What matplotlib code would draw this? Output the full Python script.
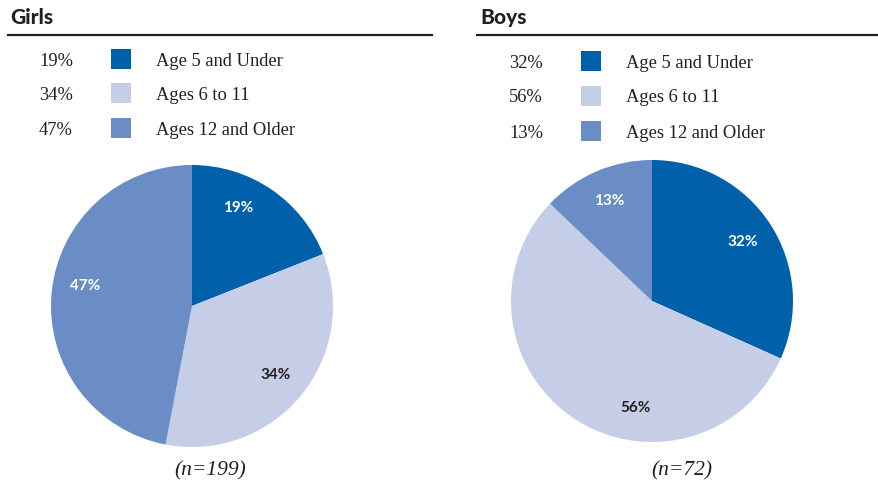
import numpy as np
import matplotlib.pyplot as plt
from matplotlib.patches import Rectangle
from matplotlib.lines import Line2D

# data
age_groups = ['Age 5 and Under', 'Ages 6 to 11', 'Ages 12 and Older']
girls_pct = [19, 34, 47]
boys_pct = [32, 56, 13]
girls_n = 199
boys_n = 72

colors = ['#0060a9', '#c5cee6', '#6a8dc6']
label_colors = ['white', '#231f20', 'white']
text_color = '#231f20'

W, H = 879, 486
fig = plt.figure(figsize=(W / 100, H / 100), dpi=100)


def fx(x):
    return x / W


def fy(y):
    return 1 - y / H


def panel(title, pcts, n, x0, rule_x, row_y, pie_box, n_x, label_shift):
    # title and rule
    fig.text(fx(x0), fy(24), title, fontsize=15, fontweight='black',
             family='Lato', color=text_color, va='baseline', ha='left')
    fig.add_artist(Line2D([fx(rule_x[0]), fx(rule_x[1])], [fy(35), fy(35)],
                          color=text_color, lw=1.6, transform=fig.transFigure))

    # legend rows
    for i, (p, lab) in enumerate(zip(pcts, age_groups)):
        y = row_y[i]
        fig.text(fx(x0 + 63), fy(y + 6.5), f'{p}%', fontsize=13.3, family='Liberation Serif',
                 color=text_color, ha='right', va='baseline')
        fig.add_artist(Rectangle((fx(x0 + 101), fy(y + 10)), fx(20), 20 / H,
                                 color=colors[i], transform=fig.transFigure, lw=0))
        fig.text(fx(x0 + 146), fy(y + 6.5), lab, fontsize=13.3, family='Liberation Serif',
                 color=text_color, ha='left', va='baseline')

    # pie
    left, top, size = pie_box
    ax = fig.add_axes([fx(left), fy(top + size), fx(size), size / H])
    wedges, texts, autotexts = ax.pie(pcts, colors=colors, startangle=90, counterclock=False,
                                      autopct='%d%%', pctdistance=0.78,
                                      wedgeprops=dict(linewidth=0))
    total = sum(pcts)
    start = 90
    for i, t in enumerate(autotexts):
        t.set_text(f'{pcts[i]}%')
        mid = start - (sum(pcts[:i]) + pcts[i] / 2) / total * 360 + label_shift[i]
        r = 0.77
        t.set_position((r * np.cos(np.radians(mid)), r * np.sin(np.radians(mid))))
        t.set_color(label_colors[i])
        t.set_fontsize(11)
        t.set_fontweight('bold')
        t.set_family('Lato')
    ax.set_xlim(-1, 1)
    ax.set_ylim(-1, 1)
    ax.set_aspect('equal')
    ax.axis('off')

    fig.text(fx(n_x), fy(471), f'(n={n})', fontsize=15.5, family='Liberation Serif',
             style='italic', color=text_color, ha='center', va='center')


panel('Girls', girls_pct, girls_n, 10, (8, 432), [59, 93, 128], (51, 165, 282), 210,
      [9, 0, -5])
panel('Boys', boys_pct, boys_n, 480, (477, 879), [61, 96, 131], (511, 160, 282), 682,
      [0, 25, 0])

fig.savefig('out.png', dpi=100)
